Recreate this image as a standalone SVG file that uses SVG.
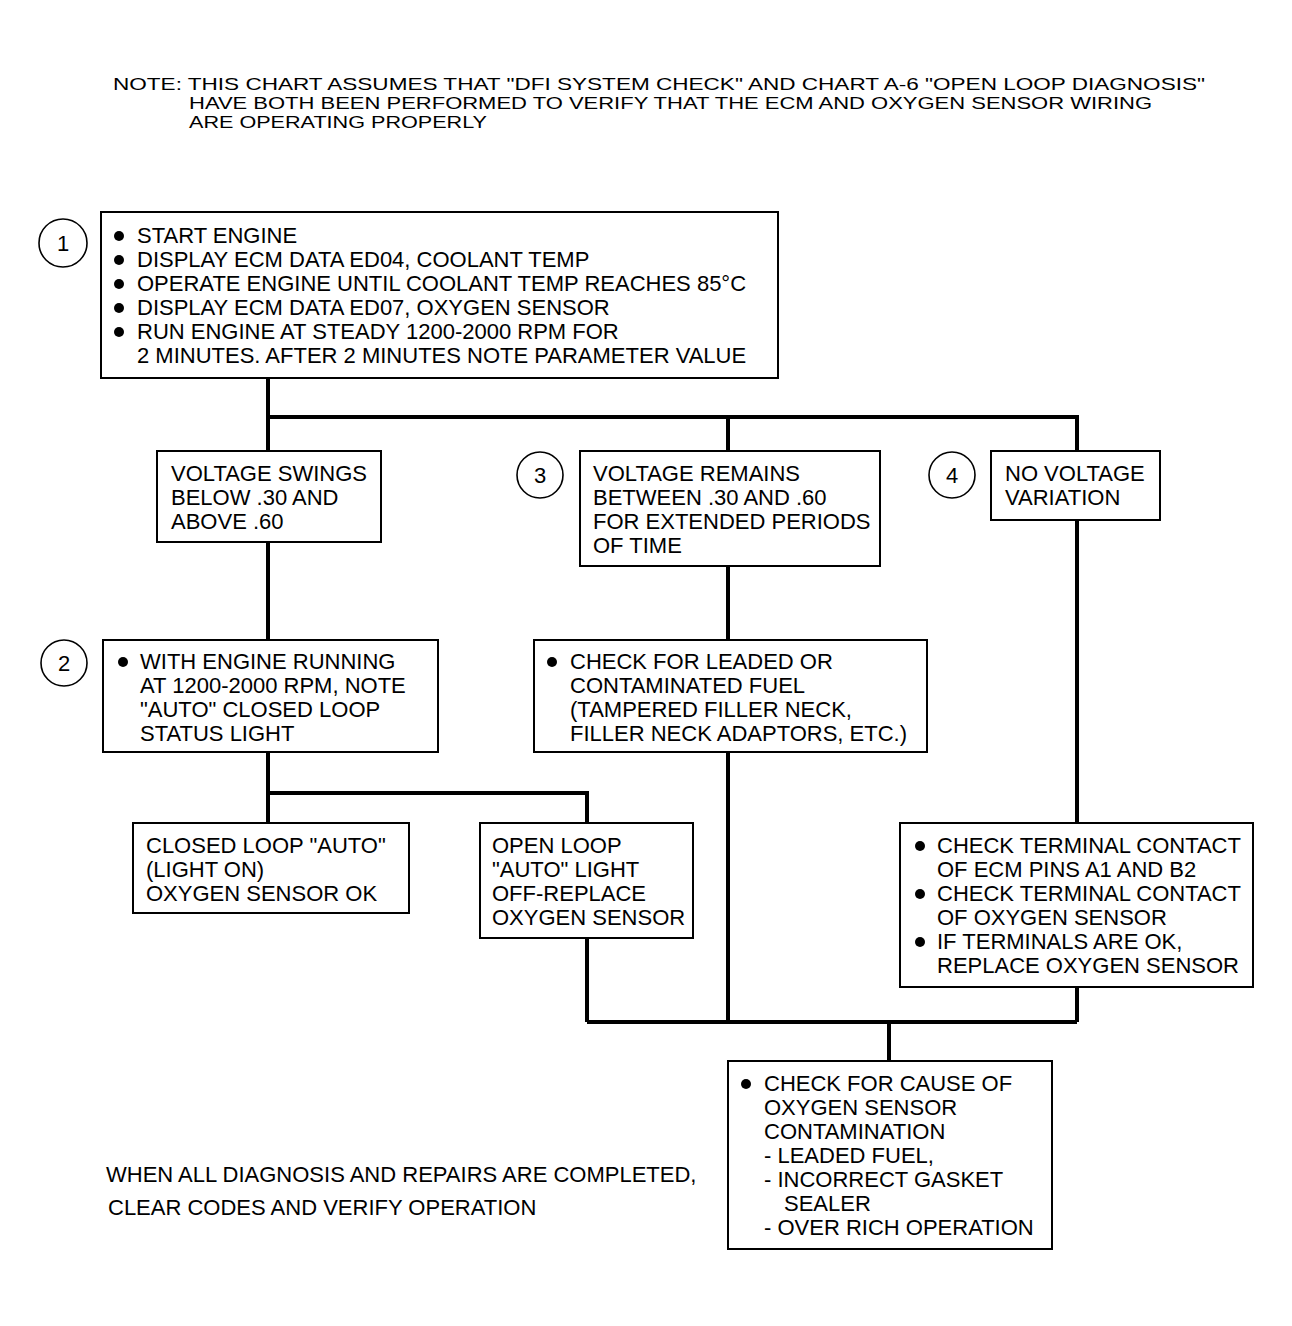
<svg xmlns="http://www.w3.org/2000/svg" width="1292" height="1326" viewBox="0 0 1292 1326">
<style>
text{font-family:"Liberation Sans",Arial,sans-serif;font-size:22px;fill:#000}
.note{font-size:16.5px}
.box{fill:#fff;stroke:#000;stroke-width:2}
.num{fill:#fff;stroke:#000;stroke-width:1.6}
.numt{text-anchor:middle;font-size:22px}
.conn{fill:none;stroke:#000;stroke-width:4}
.dot{fill:#000}
</style>
<rect width="1292" height="1326" fill="#fff"/>
<g id="note">
<text class="note" x="113" y="90" textLength="1092" lengthAdjust="spacingAndGlyphs">NOTE: THIS CHART ASSUMES THAT "DFI SYSTEM CHECK" AND CHART A-6 "OPEN LOOP DIAGNOSIS"</text>
<text class="note" x="189" y="109" textLength="963" lengthAdjust="spacingAndGlyphs">HAVE BOTH BEEN PERFORMED TO VERIFY THAT THE ECM AND OXYGEN SENSOR WIRING</text>
<text class="note" x="189" y="128" textLength="298" lengthAdjust="spacingAndGlyphs">ARE OPERATING PROPERLY</text>
</g>
<g id="connectors">
<path class="conn" d="M268 378 V451 M268 417 H1077 V451 M728 417 V451"/>
<path class="conn" d="M268 542 V640"/>
<path class="conn" d="M728 566 V640"/>
<path class="conn" d="M268 752 V823 M268 793 H587 V823"/>
<path class="conn" d="M587 938 V1022 M728 752 V1022 M1077 520 V823 M1077 987 V1022 M587 1022 H1077 M889 1022 V1061"/>
</g>
<g id="step1">
<circle class="num" cx="63" cy="243" r="24"/>
<text class="numt" x="63" y="251">1</text>
<rect class="box" x="101" y="212" width="677" height="166"/>
<circle class="dot" cx="119" cy="236" r="5"/><text x="137" y="243">START ENGINE</text>
<circle class="dot" cx="119" cy="260" r="5"/><text x="137" y="267">DISPLAY ECM DATA ED04, COOLANT TEMP</text>
<circle class="dot" cx="119" cy="284" r="5"/><text x="137" y="291">OPERATE ENGINE UNTIL COOLANT TEMP REACHES 85°C</text>
<circle class="dot" cx="119" cy="308" r="5"/><text x="137" y="315">DISPLAY ECM DATA ED07, OXYGEN SENSOR</text>
<circle class="dot" cx="119" cy="332" r="5"/><text x="137" y="339">RUN ENGINE AT STEADY 1200-2000 RPM FOR</text>
<text x="137" y="363">2 MINUTES. AFTER 2 MINUTES NOTE PARAMETER VALUE</text>
</g>
<g id="swings">
<rect class="box" x="157" y="451" width="224" height="91"/>
<text x="171" y="481">VOLTAGE SWINGS</text>
<text x="171" y="505">BELOW .30 AND</text>
<text x="171" y="529">ABOVE .60</text>
</g>
<g id="step3">
<circle class="num" cx="540" cy="475" r="23"/>
<text class="numt" x="540" y="483">3</text>
<rect class="box" x="580" y="451" width="300" height="115"/>
<text x="593" y="481">VOLTAGE REMAINS</text>
<text x="593" y="505">BETWEEN .30 AND .60</text>
<text x="593" y="529">FOR EXTENDED PERIODS</text>
<text x="593" y="553">OF TIME</text>
</g>
<g id="step4">
<circle class="num" cx="952" cy="475" r="23"/>
<text class="numt" x="952" y="483">4</text>
<rect class="box" x="991" y="451" width="169" height="69"/>
<text x="1005" y="481">NO VOLTAGE</text>
<text x="1005" y="505">VARIATION</text>
</g>
<g id="step2">
<circle class="num" cx="64" cy="663" r="23"/>
<text class="numt" x="64" y="671">2</text>
<rect class="box" x="103" y="640" width="335" height="112"/>
<circle class="dot" cx="123" cy="662" r="5"/><text x="140" y="669">WITH ENGINE RUNNING</text>
<text x="140" y="693">AT 1200-2000 RPM, NOTE</text>
<text x="140" y="717">"AUTO" CLOSED LOOP</text>
<text x="140" y="741">STATUS LIGHT</text>
</g>
<g id="fuel">
<rect class="box" x="534" y="640" width="393" height="112"/>
<circle class="dot" cx="552" cy="662" r="5"/><text x="570" y="669">CHECK FOR LEADED OR</text>
<text x="570" y="693">CONTAMINATED FUEL</text>
<text x="570" y="717">(TAMPERED FILLER NECK,</text>
<text x="570" y="741">FILLER NECK ADAPTORS, ETC.)</text>
</g>
<g id="closed">
<rect class="box" x="133" y="823" width="276" height="90"/>
<text x="146" y="853">CLOSED LOOP "AUTO"</text>
<text x="146" y="877">(LIGHT ON)</text>
<text x="146" y="901">OXYGEN SENSOR OK</text>
</g>
<g id="open">
<rect class="box" x="480" y="823" width="213" height="115"/>
<text x="492" y="853">OPEN LOOP</text>
<text x="492" y="877">"AUTO" LIGHT</text>
<text x="492" y="901">OFF-REPLACE</text>
<text x="492" y="925">OXYGEN SENSOR</text>
</g>
<g id="terminals">
<rect class="box" x="900" y="823" width="353" height="164"/>
<circle class="dot" cx="920" cy="846" r="5"/><text x="937" y="853">CHECK TERMINAL CONTACT</text>
<text x="937" y="877">OF ECM PINS A1 AND B2</text>
<circle class="dot" cx="920" cy="894" r="5"/><text x="937" y="901">CHECK TERMINAL CONTACT</text>
<text x="937" y="925">OF OXYGEN SENSOR</text>
<circle class="dot" cx="920" cy="942" r="5"/><text x="937" y="949">IF TERMINALS ARE OK,</text>
<text x="937" y="973">REPLACE OXYGEN SENSOR</text>
</g>
<g id="cause">
<rect class="box" x="728" y="1061" width="324" height="188"/>
<circle class="dot" cx="746" cy="1084" r="5"/><text x="764" y="1091">CHECK FOR CAUSE OF</text>
<text x="764" y="1115">OXYGEN SENSOR</text>
<text x="764" y="1139">CONTAMINATION</text>
<text x="764" y="1163">- LEADED FUEL,</text>
<text x="764" y="1187">- INCORRECT GASKET</text>
<text x="784" y="1211">SEALER</text>
<text x="764" y="1235">- OVER RICH OPERATION</text>
</g>
<g id="footer">
<text x="106" y="1182">WHEN ALL DIAGNOSIS AND REPAIRS ARE COMPLETED,</text>
<text x="108" y="1215">CLEAR CODES AND VERIFY OPERATION</text>
</g>
</svg>
